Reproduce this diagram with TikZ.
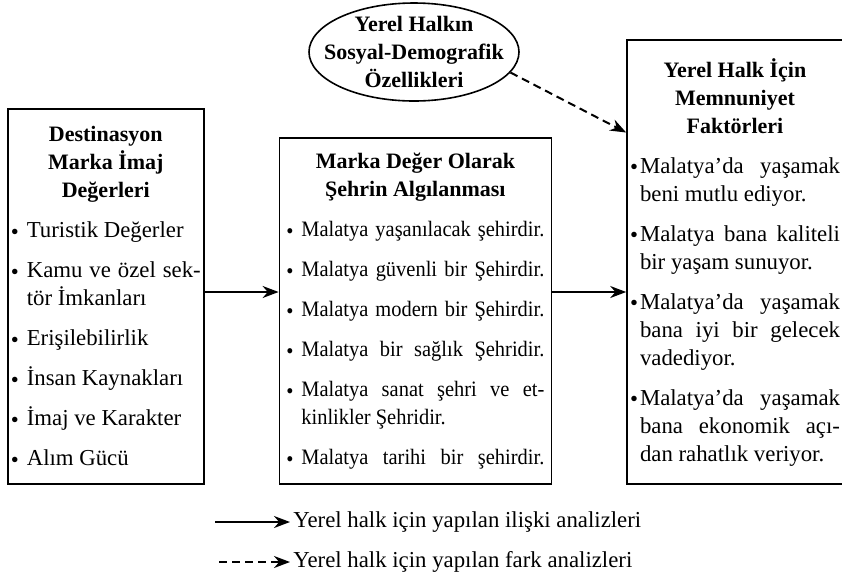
\documentclass[tikz,border=0pt]{standalone}
\usepackage{fontspec}
\setmainfont{Liberation Serif}
\newfontfamily\narrowfont{Liberation Serif}[FakeStretch=0.93]
\usetikzlibrary{positioning,arrows.meta,shapes.geometric}

\tolerance=9999
\hbadness=10000
\hyphenpenalty=10000

\newcommand{\heading}[1]{{\centering\rmfamily\fontsize{11}{14}\selectfont\bfseries #1\par}}
\newcommand{\itm}[2][7.5pt]{\par\vspace{6pt}\parfillskip=0pt plus 1fil\relax
  \hangindent=#1\hangafter=1\noindent\makebox[#1][l]{\raisebox{-.15ex}{\textbullet}}#2}
\newcommand{\fullitm}[2][7.5pt]{\itm[#1]{#2\parfillskip=0pt\relax}}

\begin{document}
\begin{tikzpicture}[
    x=0.5pt, y=-0.5pt,
    every node/.style={font=\fontsize{11.4}{14}\selectfont},
    box/.style={rectangle, draw, line width=0.8pt, align=justify, inner ysep=0pt},
    demo/.style={ellipse, draw, line width=0.8pt, minimum width=105pt, minimum height=49pt, inner sep=0pt},
    flow/.style={-{Stealth[length=8pt, width=6pt]}, line width=1pt},
    diff/.style={flow, dash pattern=on 4pt off 2.5pt}
]
\useasboundingbox (0,0) rectangle (842,580);

% Destination brand image values
\node[box, text width=95pt, inner xsep=1.5pt, minimum height=187.5pt, anchor=south west] (dest) at (7,485) {
\heading{Destinasyon\\Marka İmaj\\Değerleri}
\itm[8pt]{Turistik Değerler}
\itm[8pt]{Kamu ve özel sek-\linebreak tör İmkanları}
\itm[8pt]{Erişilebilirlik}
\itm[8pt]{İnsan Kaynakları}
\itm[8pt]{İmaj ve Karakter}
\itm[8pt]{Alım Gücü}\par};

% City perceived as brand value
\node[box, text width=129pt, inner xsep=3.5pt, minimum height=173pt, right=37pt of dest.south east, anchor=south west, font=\narrowfont\fontsize{11}{14}\selectfont] (brand) {
\heading{Marka Değer Olarak\\Şehrin Algılanması}
\fullitm{Malatya yaşanılacak şehirdir.}
\fullitm{Malatya güvenli bir Şehirdir.}
\fullitm{Malatya modern bir Şehirdir.}
\fullitm{Malatya bir sağlık Şehridir.}
\itm{Malatya sanat şehri ve et-\linebreak kinlikler Şehridir.}
\fullitm{Malatya tarihi bir şehirdir.}\par};

% Satisfaction factors
\node[box, text width=105pt, inner xsep=1.5pt, minimum height=222pt, right=37pt of brand.south east, anchor=south west] (fac) {
\heading{Yerel Halk İçin\\Memnuniyet\\Faktörleri}
\itm[5pt]{Malatya’da yaşamak\linebreak beni mutlu ediyor.}
\itm[5pt]{Malatya bana kaliteli\linebreak bir yaşam sunuyor.}
\itm[5pt]{Malatya’da yaşamak\linebreak bana iyi bir gelecek\linebreak vadediyor.}
\itm[5pt]{Malatya’da yaşamak\linebreak bana ekonomik açı-\linebreak dan rahatlık veriyor.}\par};

% Socio-demographic features
\node[demo, label={[align=center, font=\fontsize{11}{14}\selectfont\bfseries]center:Yerel Halkın\\Sosyal-Demografik\\Özellikleri}] (soc) at (414,52) {};

% Arrows
\coordinate (row) at (0,292);
\draw[flow] (dest.east |- row) -- (brand.west |- row);
\draw[flow] (brand.east |- row) -- (fac.west |- row);
\draw[diff] (soc.-12) -- (fac.130);

% Legend
\node[anchor=west, inner sep=1.5pt] (rel) at (290,522) {Yerel halk için yapılan ilişki analizleri};
\node[anchor=west, inner sep=1.5pt] (dif) at (290,562) {Yerel halk için yapılan fark analizleri};
\coordinate (relstart) at (215,522);
\coordinate (difstart) at (219,562);
\draw[flow] (relstart) -- (rel);
\draw[diff] (difstart) -- (dif);

\end{tikzpicture}
\end{document}
